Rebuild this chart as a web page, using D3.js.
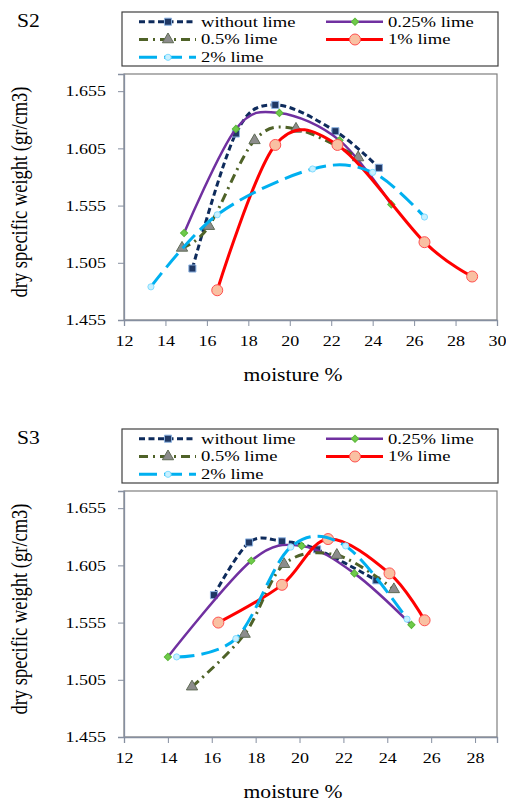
<!DOCTYPE html>
<html>
<head>
<meta charset="utf-8">
<script src="https://cdn.jsdelivr.net/npm/d3@7"></script>
<style>
  body { margin: 0; background: #fff; }
  svg { display: block; }
</style>
</head>
<body>
<div id="chart"></div>
<script>
// series names (legend order)
const seriesNames = ['without lime', '0.25% lime', '0.5% lime', '1% lime', '2% lime'];

// S2 : [moisture %, dry specific weight]
const s2WithoutLime = [[15.3, 1.500], [17.4, 1.618], [19.3, 1.643], [22.2, 1.620], [24.3, 1.588]];
const s2Lime025 = [[14.9, 1.531], [17.4, 1.622], [19.5, 1.636], [22.4, 1.612], [24.9, 1.556]];
const s2Lime05 = [[14.8, 1.518], [16.1, 1.537], [18.3, 1.612], [20.3, 1.622], [23.3, 1.597]];
const s2Lime1 = [[16.5, 1.481], [19.3, 1.608], [22.3, 1.608], [26.5, 1.523], [28.8, 1.493]];
const s2Lime2 = [[13.3, 1.484], [16.5, 1.547], [21.1, 1.587], [24.0, 1.584], [26.5, 1.545]];

// S3
const s3WithoutLime = [[16.1, 1.579], [17.7, 1.625], [19.2, 1.626], [20.8, 1.619], [23.5, 1.592]];
const s3Lime025 = [[14.0, 1.525], [17.8, 1.609], [20.1, 1.622], [22.5, 1.598], [25.1, 1.553]];
const s3Lime05 = [[15.1, 1.499], [17.5, 1.545], [19.3, 1.606], [21.7, 1.614], [24.3, 1.584]];
const s3Lime1 = [[16.3, 1.555], [19.2, 1.588], [21.3, 1.628], [24.1, 1.598], [25.7, 1.557]];
const s3Lime2 = [[14.4, 1.525], [17.1, 1.541], [19.6, 1.621], [22.1, 1.622], [24.9, 1.558]];

// axes
const yTicks = [1.455, 1.505, 1.555, 1.605, 1.655];
const xTicksS2 = [12, 14, 16, 18, 20, 22, 24, 26, 28, 30];
const xTicksS3 = [12, 14, 16, 18, 20, 22, 24, 26, 28];

const FONT = "'Liberation Serif', 'Times New Roman', serif";
const SX = 1.2; // the original is stretched sideways
const PANEL_H = 417;
const PLOT = { LEFT: 124, RIGHT: 497, TOP: 74, BOTTOM: 320 };
const Y_TOP = 1.67;

const styles = [
  { color: '#0e2b5c', width: 3, dash: '6,3.5', symbol: d3.symbolSquare, size: 50, fill: '#1f3864', stroke: '#8db3e2', rotate: 0 },
  { color: '#7030a0', width: 2.5, dash: null, symbol: d3.symbolSquare, size: 26, fill: '#6fca4a', stroke: '#5cb83a', rotate: 45 },
  { color: '#4f6228', width: 3, dash: '9,5,2,5', symbol: d3.symbolTriangle, size: 55, fill: '#8c8c8c', stroke: '#5f6b55', rotate: 0 },
  { color: '#ff0000', width: 3, dash: null, symbol: d3.symbolCircle, size: 95, fill: '#f9c0a2', stroke: '#ff5050', rotate: 0 },
  { color: '#00b0f0', width: 3, dash: '18,7', symbol: d3.symbolCircle, size: 30, fill: '#c8f0ff', stroke: '#80dcff', rotate: 0 }
];

const panels = [
  { label: 'S2', xMax: 30, xTicks: xTicksS2, series: [s2WithoutLime, s2Lime025, s2Lime05, s2Lime1, s2Lime2] },
  { label: 'S3', xMax: 29, xTicks: xTicksS3, series: [s3WithoutLime, s3Lime025, s3Lime05, s3Lime1, s3Lime2] }
];

const svg = d3.select('#chart').append('svg')
  .attr('width', 506)
  .attr('height', 801)
  .style('background', '#fff');

// put text at x,y and widen it like the source picture
const wideText = (sel, x, y, extra = '') => {
  sel.attr('x', 0).attr('y', 0)
    .attr('transform', `translate(${x},${y}) scale(${SX},1)${extra}`)
}

const drawMarker = (g, st, x, y) => {
  g.append('path')
    .attr('d', d3.symbol().type(st.symbol).size(st.size)())
    .attr('transform', `translate(${x},${y}) rotate(${st.rotate})`)
    .attr('fill', st.fill)
    .attr('stroke', st.stroke)
    .attr('stroke-width', 1)
}

panels.forEach((p, pi) => {
  const g = svg.append('g').attr('transform', `translate(0, ${pi * PANEL_H})`)

  const x = d3.scaleLinear().domain([12, p.xMax]).range([PLOT.LEFT, PLOT.RIGHT])
  const y = d3.scaleLinear().domain([1.455, Y_TOP]).range([PLOT.BOTTOM, PLOT.TOP])

  // panel label
  g.append('text')
    .attr('font-family', FONT)
    .attr('font-size', 18)
    .attr('fill', '#000')
    .text(p.label)
    .call(wideText, 17, 27)

  // plot frame
  g.append('rect')
    .attr('x', x(12))
    .attr('y', y(Y_TOP))
    .attr('width', x(p.xMax) - x(12))
    .attr('height', y(1.455) - y(Y_TOP))
    .attr('fill', 'none')
    .attr('stroke', '#7f7f7f')
    .attr('stroke-width', 1.2)

  // axes
  const yAxis = g.append('g')
    .attr('transform', `translate(${x(12)},0)`)
    .call(d3.axisLeft(y).tickValues(yTicks).tickFormat(d3.format('.3f')).tickSize(6).tickPadding(12))
  const xAxis = g.append('g')
    .attr('transform', `translate(0,${y(1.455)})`)
    .call(d3.axisBottom(x).tickValues(p.xTicks).tickFormat(d3.format('d')).tickSize(6).tickPadding(9))

  ;[yAxis, xAxis].forEach(ax => {
    ax.select('.domain').attr('stroke', '#868fa0').attr('stroke-width', 1.3)
    ax.selectAll('.tick line').attr('stroke', '#868fa0')
    ax.selectAll('.tick text')
      .attr('font-family', FONT)
      .attr('font-size', 15)
      .attr('fill', '#000')
      .each(function () {
        const t = d3.select(this)
        t.attr('x', (+t.attr('x') || 0) / SX).attr('transform', `scale(${SX},1)`)
      })
  })

  // axis titles
  g.append('text')
    .attr('font-family', FONT)
    .attr('font-size', 18)
    .attr('text-anchor', 'middle')
    .text('moisture %')
    .call(wideText, 293, 381)

  g.append('text')
    .attr('font-family', FONT)
    .attr('font-size', 18.5)
    .attr('text-anchor', 'middle')
    .text('dry specific weight (gr/cm3)')
    .call(wideText, 27, 192, ' rotate(-90)')

  // series, smoothed like the spreadsheet
  const line = d3.line()
    .x(d => x(d[0]))
    .y(d => y(d[1]))
    .curve(d3.curveCatmullRom.alpha(0))

  p.series.forEach((data, si) => {
    const st = styles[si]
    const sg = g.append('g')
    sg.append('path')
      .datum(data)
      .attr('d', line)
      .attr('fill', 'none')
      .attr('stroke', st.color)
      .attr('stroke-width', st.width)
      .attr('stroke-dasharray', st.dash)
    data.forEach(d => drawMarker(sg, st, x(d[0]), y(d[1])))
  })

  // legend
  const lg = g.append('g')
  lg.append('rect')
    .attr('x', 122).attr('y', 12)
    .attr('width', 376).attr('height', 54)
    .attr('fill', '#fff')
    .attr('stroke', '#404040')
    .attr('stroke-width', 1.2)

  seriesNames.forEach((name, si) => {
    const st = styles[si]
    const col = si % 2
    const row = Math.floor(si / 2)
    const x0 = col ? 326 : 139
    const ly = 21.7 + row * 17.8
    lg.append('line')
      .attr('x1', x0).attr('x2', x0 + 57)
      .attr('y1', ly).attr('y2', ly)
      .attr('stroke', st.color)
      .attr('stroke-width', st.width)
      .attr('stroke-dasharray', st.dash)
    drawMarker(lg, st, x0 + 29, ly)
    lg.append('text')
      .attr('font-family', FONT)
      .attr('font-size', 15.5)
      .text(name)
      .call(wideText, x0 + 62, ly + 4.8)
  })
})
</script>
</body>
</html>
